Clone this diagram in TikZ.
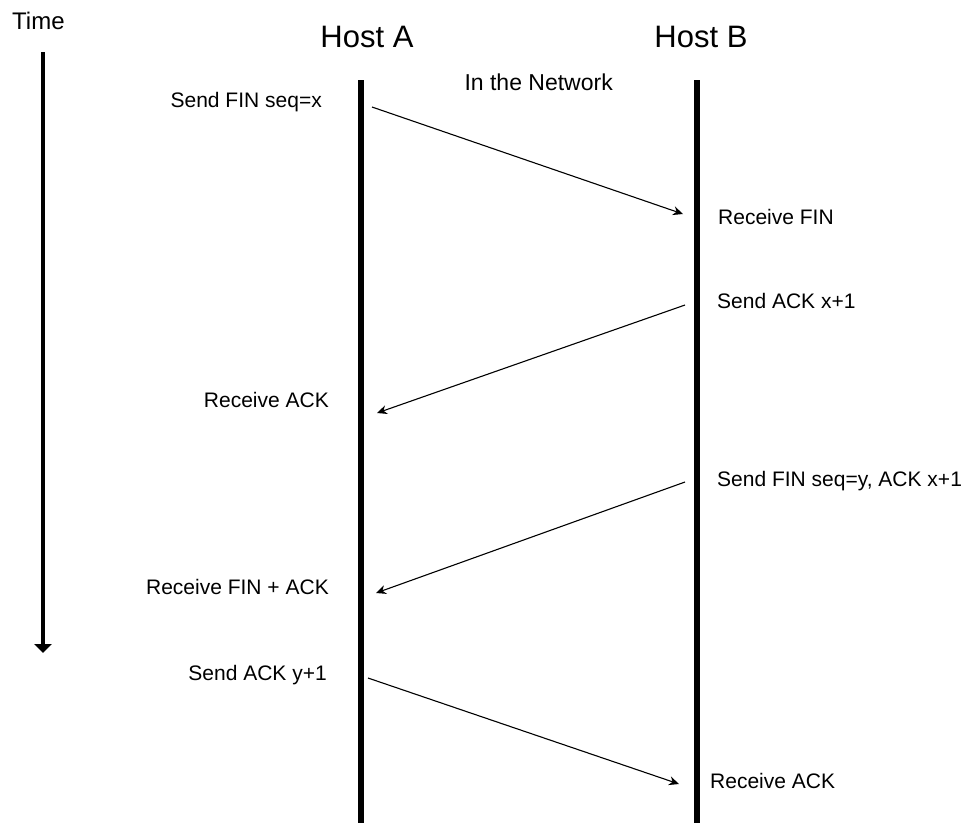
\documentclass[tikz,border=0pt]{standalone}
\usepackage{fontspec}
\setmainfont{Liberation Sans}
\usetikzlibrary{arrows.meta}
\begin{document}
\begin{tikzpicture}[x=1pt,y=-1pt,
  lbl/.style={font=\fontsize{21}{25}\selectfont, inner sep=0pt},
  hostlbl/.style={font=\fontsize{31}{36}\selectfont, inner sep=0pt},
  lifeline/.style={line width=6pt},
  msg/.style={line width=1.1pt, -{Stealth[length=10pt,width=9pt]}},
  timeline/.style={line width=3.5pt, -{Triangle[length=9pt,width=17pt]}},
]
\useasboundingbox (0,0) rectangle (965,823);

% time axis
\node[lbl, font=\fontsize{24}{28}\selectfont, anchor=mid west] (time) at (12,27) {Time};
\coordinate (t0) at (43,52);
\coordinate (t1) at (43,653);
\draw[timeline] (t0) -- (t1);

% hosts and their lifelines
\node[hostlbl, anchor=base] (hostA) at (367,47) {Host A};
\node[hostlbl, anchor=base] (hostB) at (701,47) {Host B};
\node[lbl, font=\fontsize{23}{27}\selectfont, anchor=mid east] (net) at (613,88) {In the Network};

\coordinate (a0) at (361,80);
\coordinate (a1) at (361,823);
\coordinate (b0) at (696.5,80);
\coordinate (b1) at (696.5,823);
\draw[lifeline] (a0) -- (a1);
\draw[lifeline] (b0) -- (b1);

% message end points
\coordinate (m1s) at (372,107);
\coordinate (m1e) at (683,214);
\coordinate (m2s) at (685,305);
\coordinate (m2e) at (377,413);
\coordinate (m3s) at (685,482);
\coordinate (m3e) at (376,593);
\coordinate (m4s) at (368,678);
\coordinate (m4e) at (679,784);

\draw[msg] (m1s) -- (m1e);
\draw[msg] (m2s) -- (m2e);
\draw[msg] (m3s) -- (m3e);
\draw[msg] (m4s) -- (m4e);

% event labels
\node[lbl, anchor=mid east] (e1) at (322,105) {Send FIN seq=x};
\node[lbl, anchor=mid west] (e2) at (718,222) {Receive FIN};
\node[lbl, anchor=mid west] (e3) at (717,306) {Send ACK x+1};
\node[lbl, anchor=mid east] (e4) at (329,405) {Receive ACK};
\node[lbl, anchor=mid west] (e5) at (717,484) {Send FIN seq=y, ACK x+1};
\node[lbl, anchor=mid east] (e6) at (329,592) {Receive FIN + ACK};
\node[lbl, anchor=mid east] (e7) at (327,678) {Send ACK y+1};
\node[lbl, anchor=mid west] (e8) at (710,786) {Receive ACK};
\end{tikzpicture}
\end{document}
